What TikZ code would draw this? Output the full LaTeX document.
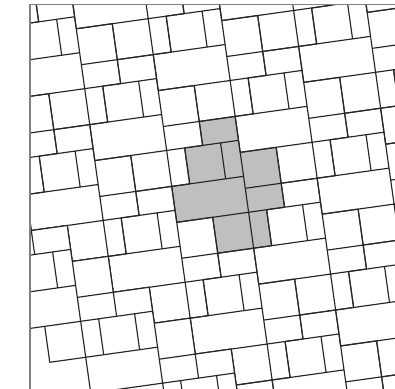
\documentclass[tikz,border=0pt]{standalone}
\begin{document}
\begin{tikzpicture}[x=1bp,y=1bp]
\useasboundingbox (0,0) rectangle (395,389);
\tikzset{tile/.style={draw=black!85,line width=1.15bp,line join=round},
  frameline/.style={draw=black!50,line width=1.3bp},
  shade/.style={fill=gray!50}}
\begin{scope}
\clip (30,0) rectangle (395,384.7);
\begin{scope}[cm={11.98,1.68,1.68,-11.98,(171.7,202.6)}]
% highlighted patch
\fill[shade] (3,-5) rectangle (6,-3) (1.5,-3) rectangle (4.5,0) (4.5,-3) rectangle (6,0)
  (6,-2) rectangle (9,1) (0,0) rectangle (6,3) (6,1) rectangle (9,3)
  (3,3) rectangle (6,6) (6,3) rectangle (7.5,6);
% periodic tiling
\foreach \i in {-5,...,5}{\foreach \j in {-5,...,5}{
 \pgfmathsetmacro\ox{6*\i+6*\j}
 \pgfmathsetmacro\oy{-5*\i+6*\j}
 \begin{scope}[shift={(\ox,\oy)}]
 \draw[tile] (3,-5) rectangle (6,-3) (1.5,-3) rectangle (4.5,0) (4.5,-3) rectangle (6,0)
  (6,-2) rectangle (9,1) (0,0) rectangle (6,3) (6,1) rectangle (9,3)
  (3,3) rectangle (6,6) (6,3) rectangle (7.5,6);
 \end{scope}}}
% lower-left region laid out differently
\fill[white] (-30,2) -- (-9,2) -- (-9,5) -- (-6,5) -- (-6,8) -- (-3,8) -- (-3,11)
  -- (0,11) -- (0,14) -- (3,14) -- (3,30) -- (-30,30) -- cycle;
\draw[tile] (-15,2) rectangle (-12,4) (-12,2) rectangle (-9,4)
  (-15,4) rectangle (-13.5,7) (-13.5,4) rectangle (-10.5,7) (-10.5,4) rectangle (-9,7)
  (-15,7) rectangle (-9,10) (-12,10) rectangle (-9,13)
  (-9,5) rectangle (-6,8) (-9,8) rectangle (-6,10) (-6,8) rectangle (-3,10)
  (-9,10) rectangle (-7.5,13) (-7.5,10) rectangle (-4.5,13) (-4.5,10) rectangle (-3,13)
  (-9,13) rectangle (-3,16) (-9,16) rectangle (-6,19) (-6,16) rectangle (-3,19)
  (-3,11) rectangle (0,14) (-3,14) rectangle (0,16) (0,14) rectangle (3,16)
  (-3,16) rectangle (-1.5,19) (-1.5,16) rectangle (1.5,19) (1.5,16) rectangle (3,19);
\end{scope}
\end{scope}
\draw[frameline] (30,0) -- (30,384.7) -- (395,384.7);
\end{tikzpicture}
\end{document}
